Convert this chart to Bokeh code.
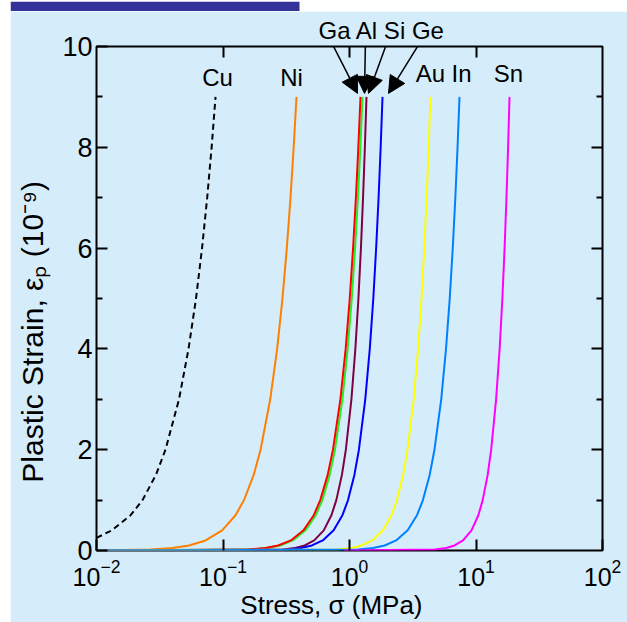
import math
from bokeh.plotting import figure
from bokeh.layouts import row, column
from bokeh.models import (FixedTicker, LogAxis, LinearAxis, Label, Arrow, NormalHead,
                          Range1d, Title, BoxAnnotation, Spacer, Div)
from bokeh.embed import file_html
from bokeh.resources import INLINE

# ---------------- data ----------------
cu_stress = [0.01, 0.0132, 0.0186, 0.0231, 0.0295, 0.0351, 0.0449, 0.0534, 0.0612,
             0.0683, 0.0750, 0.0813, 0.0873]
cu_strain = [0.25, 0.4, 0.7, 1.0, 1.5, 2.0, 3.0, 4.0, 5.0, 6.0, 7.0, 8.0, 9.0]

strain_levels = [0.0, 0.02, 0.05, 0.1, 0.2, 0.4, 0.7, 1.0, 1.5, 2.0, 3.0, 4.0, 5.0,
                 6.0, 7.0, 8.0, 9.0]

ni_stress = [0.01, 0.0268, 0.0399, 0.0539, 0.0728, 0.0985, 0.1256, 0.1466, 0.1748,
             0.1982, 0.2363, 0.2679, 0.2952, 0.3195, 0.3417, 0.3620, 0.3811]
ga_stress = [0.01, 0.1595, 0.2164, 0.2727, 0.3436, 0.4328, 0.5218, 0.5875, 0.6725,
             0.7401, 0.8472, 0.9326, 1.0046, 1.0673, 1.1237, 1.1746, 1.2218]
al_stress = [0.01, 0.1655, 0.2245, 0.2829, 0.3565, 0.4490, 0.5414, 0.6095, 0.6977,
             0.7679, 0.8790, 0.9676, 1.0423, 1.1073, 1.1658, 1.2187, 1.2676]
si_stress = [0.01, 0.2959, 0.3721, 0.4424, 0.5261, 0.6259, 0.7197, 0.7867, 0.8710,
             0.9357, 1.0354, 1.1127, 1.1765, 1.2313, 1.2797, 1.3231, 1.3625]
ge_stress = [0.01, 0.3184, 0.4137, 0.5043, 0.6146, 0.7494, 0.8793, 0.9736, 1.0932,
             1.1867, 1.3325, 1.4465, 1.5423, 1.6245, 1.6979, 1.7636, 1.8239]
au_stress = [0.01, 0.8000, 1.0318, 1.2506, 1.5163, 1.8385, 2.1473, 2.3714, 2.6546,
             2.8745, 3.2174, 3.4855, 3.7095, 3.9012, 4.0720, 4.2258, 4.3652]
in_stress = [0.01, 1.1635, 1.5359, 1.8945, 2.3375, 2.8836, 3.4163, 3.8062, 4.3035,
             4.6959, 5.3101, 5.7941, 6.1987, 6.5509, 6.8646, 7.1471, 7.4067]
sn_stress = [0.9, 4.7349, 5.8062, 6.7737, 7.9012, 9.2168, 10.437, 11.298, 12.366,
             13.183, 14.421, 15.377, 16.158, 16.827, 17.414, 17.935, 18.408]

x_ticks = [0.01, 0.1, 1, 10, 100]
y_ticks = [0, 2, 4, 6, 8, 10]
y_minor = [1, 3, 5, 7, 9]

series = [
    ("Cu", cu_stress, cu_strain, "black", "6 4"),
    ("Ni", ni_stress, strain_levels, "#ff8000", "solid"),
    ("Al", al_stress, strain_levels, "#22ee22", "solid"),
    ("Ga", ga_stress, strain_levels, "#ff0000", "solid"),
    ("Si", si_stress, strain_levels, "#800040", "solid"),
    ("Ge", ge_stress, strain_levels, "#0000ff", "solid"),
    ("Au", au_stress, strain_levels, "#ffff00", "solid"),
    ("In", in_stress, strain_levels, "#0080ff", "solid"),
    ("Sn", sn_stress, strain_levels, "#ff00ff", "solid"),
]

# ---------------- layout (page pixels) ----------------
BG = "#d5ecfa"
BANNER = "#333399"
PAGE_W, PAGE_H = 627, 622
X0, Y0 = 10, 11                 # white strip on the left, banner strip on top
BANNER_R = 299
W, H = PAGE_W - X0, PAGE_H - Y0
FL, FT, FR, FB = 96, 46, 602, 551   # frame edges on the page
BL, BR, BT, BB = FL - X0, PAGE_W - FR, FT - Y0, PAGE_H - FB
FONT = "Liberation Sans"
NB = "\u00a0"


def sx(px):
    """page pixel x -> data stress"""
    return 10 ** (-2 + 4.0 * (px - FL) / (FR - FL))


def sy(py):
    """page pixel y -> data strain"""
    return 10.0 * (FB - py) / (FB - FT)


p = figure(width=W, height=H, x_axis_type="log",
           x_range=Range1d(0.01, 100), y_range=Range1d(0, 10),
           output_backend="svg", toolbar_location=None, title_location=None,
           min_border_left=BL, min_border_right=BR,
           min_border_top=BT, min_border_bottom=BB)

p.background_fill_color = BG
p.border_fill_color = BG
p.outline_line_color = "black"
p.outline_line_width = 2
p.grid.visible = False

# bottom axis
xa = p.below[0]
xa.ticker = FixedTicker(ticks=x_ticks, minor_ticks=[])
xa.axis_line_color = None
xa.major_tick_in = 11
xa.major_tick_out = 0
xa.major_tick_line_width = 2
xa.minor_tick_line_color = None
xa.major_label_text_font = FONT
xa.major_label_text_font_size = "25px"
xa.major_label_text_color = "black"
xa.major_label_standoff = 8
xa.axis_label = "Stress, σ (MPa)" + NB * 5
xa.axis_label_text_font = FONT
xa.axis_label_text_font_style = "normal"
xa.axis_label_text_font_size = "26px"
xa.axis_label_text_color = "black"
xa.axis_label_standoff = 1

# left axis
ya = p.left[0]
ya.ticker = FixedTicker(ticks=y_ticks, minor_ticks=y_minor)
ya.axis_line_color = None
ya.major_tick_in = 11
ya.major_tick_out = 0
ya.minor_tick_in = 6
ya.minor_tick_out = 0
ya.major_tick_line_width = 2
ya.minor_tick_line_width = 2
ya.major_label_text_font = FONT
ya.major_label_text_font_size = "27px"
ya.major_label_text_color = "black"
ya.major_label_standoff = 4
ya.axis_label = "Plastic Strain, εₚ (10⁻⁹)" + NB * 8
ya.axis_label_text_font = FONT
ya.axis_label_text_font_style = "normal"
ya.axis_label_text_font_size = "30px"
ya.axis_label_text_color = "black"
ya.axis_label_standoff = 10

# top axis (ticks only)
ta = LogAxis(ticker=FixedTicker(ticks=[0.1, 1, 10], minor_ticks=[]))
ta.axis_line_color = None
ta.major_tick_in = 11
ta.major_tick_out = 0
ta.major_tick_line_width = 2
ta.minor_tick_line_color = None
ta.major_label_text_font_size = "1px"
ta.major_label_text_alpha = 0
ta.major_label_standoff = 0
p.add_layout(ta, "above")

# right axis (ticks only)
ra = LinearAxis(ticker=FixedTicker(ticks=[2, 4, 6, 8], minor_ticks=y_minor))
ra.axis_line_color = None
ra.major_tick_in = 11
ra.major_tick_out = 0
ra.minor_tick_in = 6
ra.minor_tick_out = 0
ra.major_tick_line_width = 2
ra.minor_tick_line_width = 2
ra.major_label_text_font_size = "1px"
ra.major_label_text_alpha = 0
ra.major_label_standoff = 0
p.add_layout(ra, "right")

# labels above the frame (Ga Al Si Ge) as a title line
top_title = Title(text="Ga Al Si Ge", align="left", offset=318 - FL,
                  text_font=FONT, text_font_style="normal", text_font_size="24px",
                  text_color="black", standoff=6)
p.add_layout(top_title, "above")

# curves
for name, xs, ys, col, dash in series:
    p.line(xs, ys, line_color=col, line_width=2, line_dash=dash)

# element labels inside the frame (vertical centre of the glyphs)
lab_pos = [("Cu", 217, 77), ("Ni", 291, 77), ("Au", 430, 73), ("In", 461, 73), ("Sn", 508, 73)]
for t, px, py in lab_pos:
    p.add_layout(Label(x=sx(px), y=sy(py), text=t, text_align="center",
                       text_baseline="middle", text_font=FONT,
                       text_font_size="24px", text_color="black"))

# arrows
arrows = [((329, 38), (357, 93)), ((365, 38), (364, 93)),
          ((388, 38), (368, 93)), ((422, 38), (388, 93))]
for (x0, y0), (x1, y1) in arrows:
    p.add_layout(Arrow(x_start=sx(x0), y_start=sy(y0), x_end=sx(x1), y_end=sy(y1),
                       line_color="black", line_width=1.5,
                       end=NormalHead(size=17, fill_color="black", line_color="black")))

# dark banner strip along the top
banner = figure(width=W, height=Y0, x_range=Range1d(X0, PAGE_W), y_range=Range1d(0, 1),
                output_backend="svg", toolbar_location=None, title_location=None,
                x_axis_location=None, y_axis_location=None, min_border=0)
banner.outline_line_color = None
banner.grid.visible = False
banner.background_fill_color = "white"
banner.border_fill_color = "white"
banner.add_layout(BoxAnnotation(left=X0, right=BANNER_R, bottom=0, top=1,
                                fill_color=BANNER, fill_alpha=1, line_color=None))

if "frame_align" in banner.properties():
    banner.frame_align = False
    top_strip = banner
else:
    top_strip = Div(text=f'<div style="width:{BANNER_R - X0}px;height:{Y0}px;'
                         f'background:{BANNER}"></div>',
                    width=W, height=Y0, margin=0)

layout = row(Spacer(width=X0, height=PAGE_H), column(top_strip, p))

open("out.html", "w").write(file_html(layout, INLINE))
